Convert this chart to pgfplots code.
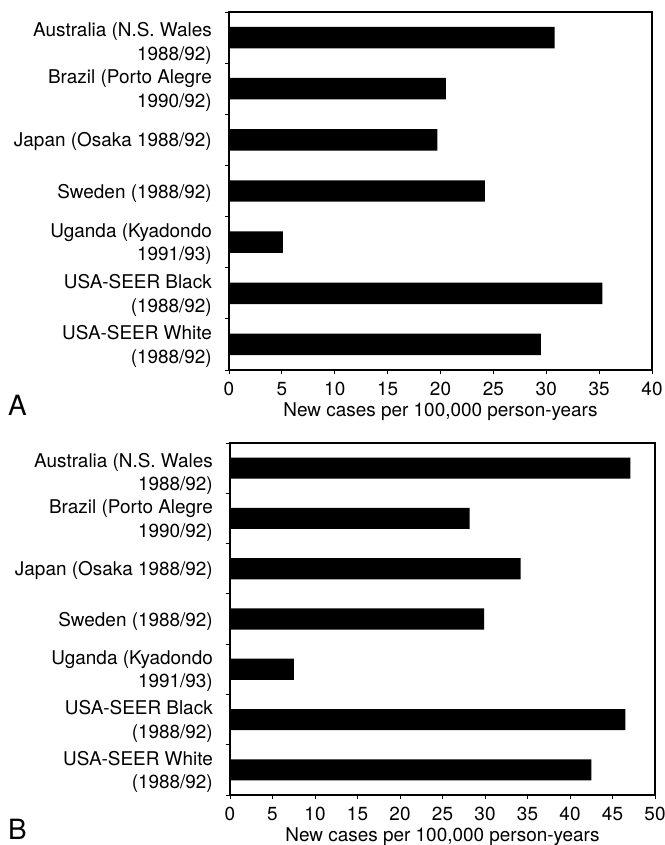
\documentclass[border=0pt]{standalone}
\usepackage{fontspec}
\setmainfont{TeX Gyre Heros}
\usepackage{pgfplots}
\pgfplotsset{compat=1.18}
\pgfplotsset{
  myax/.style={
    scale only axis, xbar, y dir=reverse,
    ymin=-0.5, ymax=6.5,
    axis line style={line width=1.1pt},
    tick align=outside, major tick length=4bp,
    every tick/.style={black, line width=0.9pt},
    xtick pos=bottom, ytick pos=left,
    ytick={-0.5,0.5,...,6.5}, yticklabels={},
    extra y ticks={0,1,2,3,4,5,6},
    extra y tick labels={{\rule{0pt}{22bp}Australia (N.S. Wales\\1988/92)},{Brazil (Porto Alegre\\1990/92)},{Japan (Osaka 1988/92)},{Sweden (1988/92)},{Uganda (Kyadondo\\1991/93)},{USA-SEER Black\\(1988/92)},{USA-SEER White\\(1988/92)}},
    extra y tick style={major tick length=0pt},
    yticklabel style={align=right, font=\fontsize{19}{23.5}\selectfont, inner sep=2bp, xshift=-15bp, yshift=-2bp},
    xticklabel style={font=\fontsize{19}{20}\selectfont, inner sep=2bp, yshift=-6bp},
    /pgf/number format/assume math mode=true,
    xlabel={New cases per 100,000 person-years},
    xlabel style={font=\fontsize{19}{20}\selectfont, inner sep=0pt, yshift=-5bp},
    bar width=0.42,
  }
}
\begin{document}
\begin{tikzpicture}
\useasboundingbox (0bp,0bp) rectangle (665bp,845bp);
\begin{axis}[myax, at={(229bp,475bp)}, anchor=south west, width=423bp, height=358bp,
  xmin=0, xmax=40, xtick={0,5,...,40}]
\addplot[fill=black, draw=none] coordinates {(30.8,0) (20.5,1) (19.7,2) (24.2,3) (5.1,4) (35.3,5) (29.5,6)};
\end{axis}
\node[font=\fontsize{28}{28}\selectfont, anchor=west, inner sep=0pt] at (8bp,440bp) {A};
\begin{axis}[myax, at={(230bp,50bp)}, anchor=south west, width=425bp, height=352bp,
  xmin=0, xmax=50, xtick={0,5,...,50}]
\addplot[fill=black, draw=none] coordinates {(47.1,0) (28.2,1) (34.2,2) (29.9,3) (7.5,4) (46.5,5) (42.5,6)};
\end{axis}
\node[font=\fontsize{28}{28}\selectfont, anchor=west, inner sep=0pt] at (8bp,16bp) {B};
\end{tikzpicture}
\end{document}
